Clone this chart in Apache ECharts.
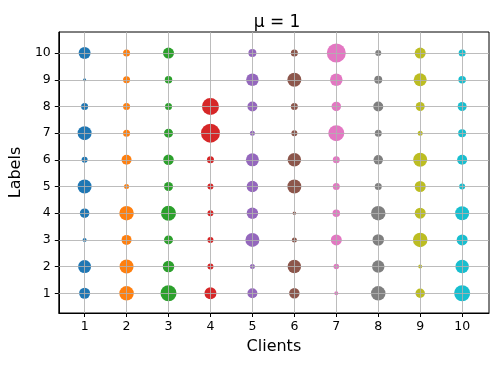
<!DOCTYPE html>
<html>
<head>
<meta charset="utf-8">
<script src="https://cdn.jsdelivr.net/npm/echarts@6/dist/echarts.min.js"></script>
<style>
  html, body { margin: 0; padding: 0; background: #fff; }
  #chart { width: 498px; height: 365px; }
</style>
</head>
<body>
<div id="chart"></div>
<script>
// marker sizes per client, for labels 1..10 (0 = no samples)
const labels = [1, 2, 3, 4, 5, 6, 7, 8, 9, 10];
const clients = [1, 2, 3, 4, 5, 6, 7, 8, 9, 10];
const client1 = [11, 13, 4, 9.5, 14, 6, 14, 7, 3, 12];
const client2 = [14.5, 14, 10, 14.5, 5, 10, 7, 7, 7, 7];
const client3 = [16, 11.5, 9, 15, 9, 10.5, 9, 7, 7.5, 11];
const client4 = [12, 6, 6, 6, 6, 7, 19, 17, 0, 0];
const client5 = [10, 5, 14, 11.5, 11.5, 13, 5, 10, 12.5, 8];
const client6 = [10.5, 13.5, 5, 3.5, 14, 13.5, 6, 7, 14, 7];
const client7 = [4, 5.5, 11, 7.5, 7, 7, 16, 9.5, 12.5, 19];
const client8 = [14.5, 12.5, 11.5, 14.5, 7, 9.5, 7, 10, 8, 6];
const client9 = [9.5, 4, 14.5, 11, 11, 14, 5, 9, 13, 11];
const client10 = [16, 13.5, 11, 14, 6, 10, 8, 9, 7.5, 7];
const sizes = [client1, client2, client3, client4, client5, client6, client7, client8, client9, client10];

const colors = ['#1f77b4', '#ff7f0e', '#2ca02c', '#d62728', '#9467bd',
                '#8c564b', '#e377c2', '#7f7f7f', '#bcbd22', '#17becf'];

const font = 'DejaVu Sans';
const chart = echarts.init(document.getElementById('chart'));

const series = clients.map((c, i) => ({
    type: 'scatter',
    z: 2,
    silent: true,
    itemStyle: {color: colors[i], opacity: 1},
    symbolSize: (v) => v[2],
    data: labels.map((l, j) => [c, l, sizes[i][j]]).filter(d => d[2] > 0)
}));

// grid lines on top of markers, like the original
const gridStyle = {color: 'rgba(176,176,176,0.85)', width: 1, type: 'solid'};
series.push({
    type: 'scatter',
    data: [],
    z: 5,
    markLine: {
        silent: true,
        symbol: 'none',
        label: {show: false},
        lineStyle: gridStyle,
        animation: false,
        data: clients.map(c => ({xAxis: c})).concat(labels.map(l => ({yAxis: l})))
    }
});

chart.setOption({
    animation: false,
    textStyle: {fontFamily: font},
    title: {
        text: 'μ = 1',
        left: 272,
        top: 9,
        textAlign: 'center',
        textStyle: {fontFamily: font, fontSize: 17, fontWeight: 'normal', color: '#000'}
    },
    grid: {
        left: 55, right: 9, top: 32, bottom: 52,
        show: true, borderColor: '#000', borderWidth: 1, backgroundColor: 'transparent'
    },
    xAxis: {
        type: 'value',
        min: 0.385,
        max: 10.64,
        name: 'Clients',
        nameLocation: 'middle',
        nameGap: 26,
        nameTextStyle: {fontFamily: font, fontSize: 16, color: '#000'},
        axisLine: {show: true, onZero: false, lineStyle: {color: '#000'}},
        axisTick: {show: true, inside: false, length: 4, customValues: clients, lineStyle: {color: '#000'}},
        axisLabel: {customValues: clients, margin: 7, fontSize: 12.5, color: '#000', fontFamily: font},
        splitLine: {show: false}
    },
    yAxis: {
        type: 'value',
        min: 0.26,
        max: 10.79,
        name: 'Labels',
        nameLocation: 'middle',
        nameGap: 27,
        nameRotate: 90,
        nameTextStyle: {fontFamily: font, fontSize: 16, color: '#000'},
        axisLine: {show: true, onZero: false, lineStyle: {color: '#000'}},
        axisTick: {show: true, inside: false, length: 4, customValues: labels, lineStyle: {color: '#000'}},
        axisLabel: {customValues: labels, margin: 8, fontSize: 12.5, color: '#000', fontFamily: font},
        splitLine: {show: false}
    },
    series: series
});
</script>
</body>
</html>
